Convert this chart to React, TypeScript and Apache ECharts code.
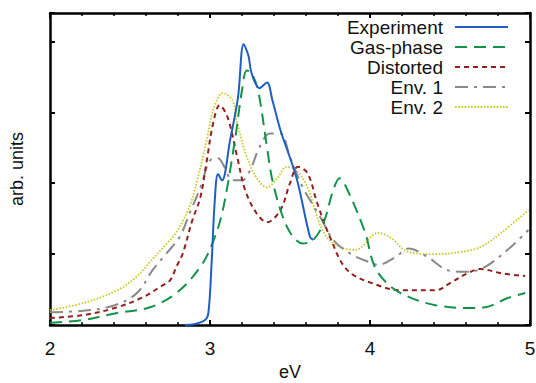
import React, { useEffect, useRef } from "react";
import * as echarts from "echarts";

const xTicks = [2, 3, 4, 5];
const legendNames = ["Experiment", "Gas-phase", "Distorted", "Env. 1", "Env. 2"];

const expX = [2.844, 2.906, 2.969, 2.99, 3.01, 3.03, 3.05, 3.075, 3.125, 3.175, 3.21, 3.24, 3.26, 3.31, 3.356, 3.39, 3.44, 3.54, 3.625, 3.645];
const expY = [0, 0.014, 0.07, 0.17, 0.87, 1.76, 2.13, 2.04, 2.6, 3.21, 3.96, 3.8, 3.55, 3.34, 3.42, 3.17, 2.75, 2.08, 1.24, 1.2];

const gasX = [2.0, 2.206, 2.42, 2.625, 2.79, 2.94, 3.02, 3.08, 3.156, 3.2, 3.23, 3.26, 3.3, 3.356, 3.39, 3.456, 3.52, 3.58, 3.645, 3.71, 3.77, 3.81, 3.86, 3.97, 4.03, 4.13, 4.26, 4.41, 4.61, 4.72, 4.86, 4.97];
const gasY = [0.03, 0.07, 0.17, 0.25, 0.45, 0.82, 1.18, 1.62, 2.61, 3.31, 3.59, 3.55, 3.31, 2.51, 2.04, 1.52, 1.24, 1.15, 1.2, 1.44, 1.9, 2.07, 1.9, 1.3, 0.82, 0.54, 0.38, 0.28, 0.24, 0.25, 0.38, 0.45];

const disX = [2.0, 2.21, 2.42, 2.58, 2.69, 2.75, 2.79, 2.83, 2.89, 2.94, 2.98, 3.02, 3.06, 3.11, 3.17, 3.22, 3.29, 3.356, 3.44, 3.5, 3.55, 3.61, 3.67, 3.75, 3.86, 4.05, 4.19, 4.41, 4.5, 4.61, 4.69, 4.82, 4.97];
const disY = [0.1, 0.14, 0.25, 0.39, 0.54, 0.63, 0.82, 1.01, 1.48, 1.8, 2.32, 2.85, 3.1, 2.93, 2.37, 1.9, 1.58, 1.45, 1.62, 2.0, 2.23, 2.14, 1.72, 1.24, 0.77, 0.56, 0.49, 0.49, 0.59, 0.73, 0.79, 0.73, 0.69];

const env1X = [2.0, 2.21, 2.36, 2.48, 2.56, 2.64, 2.72, 2.81, 2.875, 2.94, 3.0, 3.05, 3.09, 3.14, 3.2, 3.25, 3.31, 3.375, 3.44, 3.5, 3.58, 3.69, 3.77, 3.875, 3.99, 4.05, 4.16, 4.24, 4.36, 4.49, 4.61, 4.72, 4.86, 4.99];
const env1Y = [0.18, 0.2, 0.25, 0.35, 0.49, 0.77, 0.99, 1.24, 1.59, 1.94, 2.32, 2.35, 2.23, 2.04, 2.04, 2.18, 2.51, 2.7, 2.7, 2.37, 1.94, 1.52, 1.2, 1.01, 0.89, 0.85, 0.96, 1.08, 0.96, 0.77, 0.75, 0.82, 1.06, 1.34];

const env2X = [2.0, 2.21, 2.42, 2.54, 2.625, 2.71, 2.79, 2.875, 2.92, 2.98, 3.02, 3.08, 3.14, 3.17, 3.23, 3.29, 3.356, 3.42, 3.48, 3.54, 3.61, 3.67, 3.73, 3.81, 3.91, 4.05, 4.13, 4.24, 4.41, 4.57, 4.69, 4.82, 4.99];
const env2Y = [0.21, 0.31, 0.49, 0.68, 0.89, 1.1, 1.31, 1.69, 2.04, 2.61, 3.03, 3.27, 3.17, 2.85, 2.37, 2.08, 1.94, 2.07, 2.23, 2.18, 1.94, 1.52, 1.24, 1.1, 1.06, 1.3, 1.23, 1.03, 1.0, 1.03, 1.1, 1.3, 1.62];

const colors = ["#1f5fc4", "#11944a", "#93201c", "#8a8a8a", "#c9c92a"];
const dashes: any[] = ["solid", [12, 7], [5, 4], [13, 6, 3, 6], [1.6, 1.6]];

const FONT = "Liberation Sans, Arial, sans-serif";

function zip(xs: number[], ys: number[]) {
  return xs.map((x, i) => [x, ys[i]]);
}

export default function App() {
  const ref = useRef<HTMLDivElement>(null);
  useEffect(() => {
    document.body.style.margin = "0";
    const chart = echarts.init(ref.current!, undefined, { renderer: "svg" });
    const seriesData = [zip(expX, expY), zip(gasX, gasY), zip(disX, disY), zip(env1X, env1Y), zip(env2X, env2Y)];
    const axisCommon = {
      axisLine: { show: true, onZero: false, lineStyle: { color: "#000", width: 2.5 } },
      axisTick: { show: true, inside: true, length: 5, lineStyle: { color: "#000", width: 2 } },
      splitLine: { show: false },
    };
    const legendRowsY = [27, 47, 67, 87, 107];
    const graphic: any[] = [];
    legendNames.forEach((name, i) => {
      graphic.push({
        type: "text",
        x: 443,
        y: legendRowsY[i],
        style: { text: name, textAlign: "right", textVerticalAlign: "middle", font: `19px ${FONT}`, fill: "#111" },
      });
      graphic.push({
        type: "line",
        shape: { x1: 455, y1: legendRowsY[i], x2: 508, y2: legendRowsY[i] },
        style: { stroke: colors[i], lineWidth: i === 4 ? 1.8 : 2, lineDash: dashes[i] === "solid" ? null : dashes[i] },
      });
    });
    chart.setOption({
      animation: false,
      grid: { left: 50, right: 6, top: 13, bottom: 58, containLabel: false, outerBoundsMode: "none" },
      xAxis: [
        {
          type: "value",
          min: 2,
          max: 5,
          interval: 1,
          position: "bottom",
          name: "eV",
          nameLocation: "middle",
          nameGap: 38,
          nameTextStyle: { fontFamily: FONT, fontSize: 18, color: "#111" },
          axisLabel: { show: true, margin: 14, fontFamily: FONT, fontSize: 19, color: "#111", formatter: (v: number) => (xTicks.includes(v) ? String(v) : "") },
          minorTick: { show: true, splitNumber: 5, length: 3, lineStyle: { color: "#000", width: 1.5 } },
          ...axisCommon,
        },
        {
          type: "value",
          min: 2,
          max: 5,
          interval: 1,
          position: "top",
          axisLabel: { show: false },
          minorTick: { show: true, splitNumber: 5, length: 3, lineStyle: { color: "#000", width: 1.5 } },
          ...axisCommon,
        },
      ],
      yAxis: [
        {
          type: "value",
          min: 0,
          max: 4.4,
          interval: 1,
          position: "left",
          name: "arb. units",
          nameLocation: "middle",
          nameGap: 24,
          nameRotate: 90,
          nameTextStyle: { fontFamily: FONT, fontSize: 18, color: "#111" },
          axisLabel: { show: false },
          ...axisCommon,
        },
        {
          type: "value",
          min: 0,
          max: 4.4,
          interval: 1,
          position: "right",
          axisLabel: { show: false },
          ...axisCommon,
        },
      ],
      series: seriesData.map((d, i) => ({
        type: "line",
        name: legendNames[i],
        data: d,
        xAxisIndex: 0,
        yAxisIndex: 0,
        showSymbol: false,
        symbol: "none",
        smooth: 0.35,
        z: 10 - i,
        lineStyle: { color: colors[i], width: i === 4 ? 1.8 : 2, type: dashes[i] },
      })),
      graphic,
    });
    return () => chart.dispose();
  }, []);
  return <div ref={ref} style={{ width: 536, height: 383, position: "absolute", left: 0, top: 0, background: "#fff" }} />;
}
